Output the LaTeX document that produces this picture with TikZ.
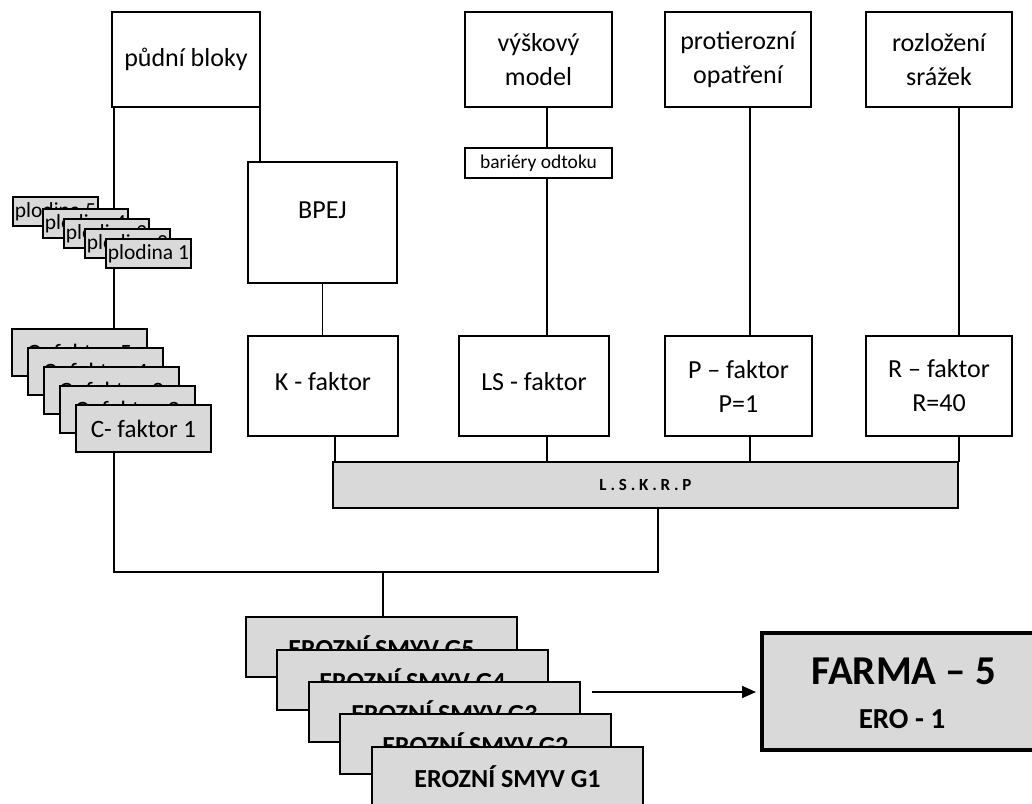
\documentclass[tikz,border=0pt]{standalone}
\usepackage{fontspec}
\setmainfont{Carlito}
\usetikzlibrary{arrows.meta,backgrounds}
\definecolor{boxgray}{RGB}{217,217,217}
\tikzset{
  base/.style={anchor=north west, inner sep=0pt, outer sep=0pt, align=center},
  whitebox/.style={base, draw, line width=1.6pt, fill=white, font=\fontsize{26}{34}\selectfont},
  cropbox/.style={base, draw, line width=1.9pt, fill=boxgray, minimum width=85pt, minimum height=29pt, font=\fontsize{21.5}{24}\selectfont},
  cbox/.style={base, draw, line width=1.9pt, fill=boxgray, minimum width=135pt, minimum height=47pt, font=\fontsize{25}{28}\selectfont},
  gbox/.style={base, draw, line width=2.8pt, fill=boxgray, minimum width=271pt, minimum height=60pt, font=\fontsize{26}{30}\selectfont\bfseries},
  link/.style={line width=1.5pt},
}
\begin{document}
\begin{tikzpicture}[x=1pt,y=-1pt]
\useasboundingbox (0,0) rectangle (1032,803);
\clip (0,0) rectangle (1032,803);

% input layers
\node[whitebox, minimum width=148pt, minimum height=95pt] (pudni) at (112,12) {půdní bloky};
\node[whitebox, minimum width=147pt, minimum height=95pt] (vys) at (465,12) {výškový\\model};
\node[whitebox, minimum width=146pt, minimum height=95pt] (prot) at (665,12) {protierozní\\opatření};
\node[whitebox, minimum width=146pt, minimum height=95pt] (rozl) at (866,12) {rozložení\\srážek};
\node[whitebox, minimum width=147pt, minimum height=30pt, font=\fontsize{19.5}{22}\selectfont] (barr) at (465,148) {bariéry odtoku};
\node[whitebox, minimum width=149pt, minimum height=121pt, text depth=24pt] (bpej) at (248,162) {BPEJ};

% factors
\node[whitebox, minimum width=150pt, minimum height=100pt, text depth=10pt] (kf) at (248,336) {K - faktor};
\node[whitebox, minimum width=150pt, minimum height=100pt, text depth=10pt] (ls) at (459,336) {LS - faktor};
\node[whitebox, minimum width=147pt, minimum height=100pt] (pf) at (665,336) {P – faktor\\P=1};
\node[whitebox, minimum width=146pt, minimum height=100pt] (rf) at (866,336) {R – faktor\\R=40};
\node[base, draw, line width=1.6pt, fill=boxgray, minimum width=625pt, minimum height=46pt,
      font=\fontsize{17}{20}\selectfont\bfseries] (lskrp) at (333,462)
      {L . S . K . R . P};

% crops
\node[cropbox] (p5) at (13,197) {plodina 5};
\node[cropbox] (p4) at (43,209) {plodina 4};
\node[cropbox] (p3) at (64,219) {plodina 3};
\node[cropbox] (p2) at (85,229) {plodina 2};
\node[cropbox] (p1) at (106,239) {plodina 1};

% C factors
\node[cbox] (c5) at (12,329) {C- faktor 5};
\node[cbox] (c4) at (28,348) {C- faktor 4};
\node[cbox] (c3) at (44,367) {C- faktor 3};
\node[cbox] (c2) at (60,386) {C- faktor 2};
\node[cbox] (c1) at (76,405) {C- faktor 1};

% erosion results
\node[gbox] (g5) at (246,617) {EROZNÍ SMYV G5};
\node[gbox] (g4) at (277,650) {EROZNÍ SMYV G4};
\node[gbox] (g3) at (309,682) {EROZNÍ SMYV G3};
\node[gbox] (g2) at (340,714) {EROZNÍ SMYV G2};
\node[gbox] (g1) at (372,747) {EROZNÍ SMYV G1};

% farm summary
\node[base, draw, line width=3.5pt, fill=boxgray, minimum width=280pt, minimum height=117pt] (farma) at (762,633) {};
\node[anchor=base, inner sep=0pt, font=\fontsize{41}{44}\selectfont\bfseries] (farmatitle) at (904,684) {FARMA – 5};
\node[anchor=base, inner sep=0pt, font=\fontsize{29}{32}\selectfont\bfseries] (farmasub) at (902,728) {ERO - 1};

\coordinate (arrstart) at (592,692);
\draw[link, -{Triangle[length=14pt,width=12pt]}, shorten >=6pt] (arrstart) -- (arrstart -| farma.west);

% connectors behind the boxes
\coordinate (jl) at (114,572);
\coordinate (jr) at (658,572);
\coordinate (jm) at (383,572);
\coordinate (cK) at (335,0);
\coordinate (cLS) at (547,0);
\coordinate (cP) at (750,0);
\coordinate (cR) at (959,0);
\begin{scope}[on background layer]
\fill[white] (0,0) rectangle (1032,803);
\draw[link] (pudni.south west -| jl) -- (jl) -- (jr) -- (lskrp.south -| jr);
\draw[link] (jm) -- (g5.north -| jm);
\draw[link] (pudni.south east) -- (pudni.south east |- bpej.north);
\draw[link] (bpej.south) -- (bpej.south |- kf.north);
\draw[link] (kf.south -| cK) -- (lskrp.north -| cK);
\draw[link] (vys.south -| cLS) -- (barr.north -| cLS);
\draw[link] (barr.south -| cLS) -- (ls.north -| cLS);
\draw[link] (ls.south -| cLS) -- (lskrp.north -| cLS);
\draw[link] (prot.south -| cP) -- (pf.north -| cP);
\draw[link] (pf.south -| cP) -- (lskrp.north -| cP);
\draw[link] (rozl.south -| cR) -- (rf.north -| cR);
\draw[link] (rf.south -| cR) -- (lskrp.north -| cR);
\end{scope}
\end{tikzpicture}
\end{document}
